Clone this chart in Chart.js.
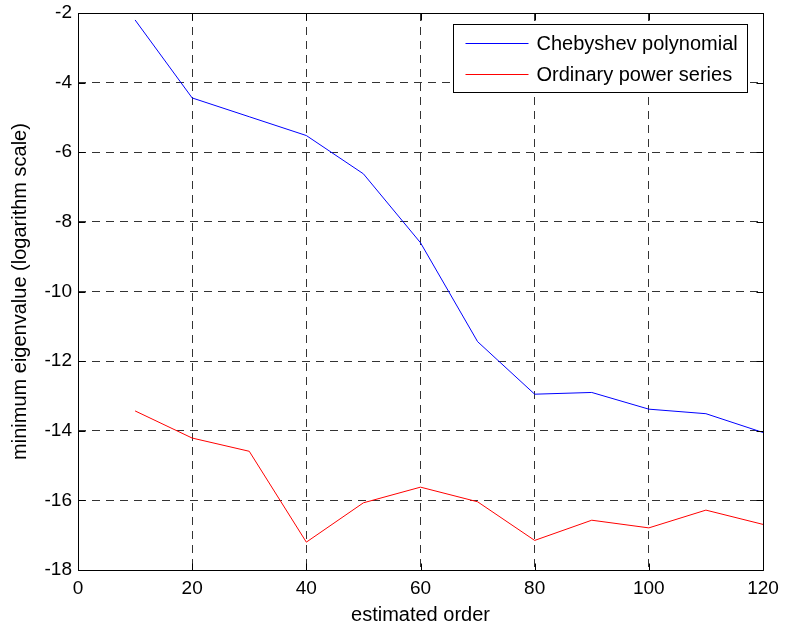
<!DOCTYPE html>
<html>
<head>
<meta charset="utf-8">
<script src="https://cdn.jsdelivr.net/npm/chart.js@4/dist/chart.umd.min.js"></script>
<style>
  html, body { margin: 0; padding: 0; background: #fff; }
  #wrap { width: 786px; height: 627px; }
  canvas { display: block; }
</style>
</head>
<body>
<div id="wrap"><canvas id="c" width="786" height="627"></canvas></div>
<script>
// Estimated model order on the x axis
const orders = [10, 20, 30, 40, 50, 60, 70, 80, 90, 100, 110, 120];
// log10 of the minimum eigenvalue for each basis
const chebyshev   = [-2.2, -4.44, -4.98, -5.52, -6.62, -8.6, -11.44, -12.95, -12.9, -13.38, -13.51, -14.05];
const powerSeries = [-13.43, -14.21, -14.59, -17.2, -16.07, -15.62, -16.04, -17.15, -16.57, -16.79, -16.28, -16.69];
const seriesNames = ['Chebyshev polynomial', 'Ordinary power series'];
const xTicks = [0, 20, 40, 60, 80, 100, 120];
const yTicks = [-18, -16, -14, -12, -10, -8, -6, -4, -2];

const FONT = '"Liberation Sans", Arial, Helvetica, sans-serif';

const toPoints = (ys) => orders.map((x, i) => ({ x: x, y: ys[i] }));

const crisp = (v) => Math.round(v) + 0.5;

// Axes box with inward tick marks on all four sides
const framePlugin = {
  id: 'frame',
  afterDatasetsDraw(chart) {
    const { ctx, chartArea: a, scales } = chart;
    const L = crisp(a.left), R = crisp(a.right), T = crisp(a.top), B = crisp(a.bottom);
    const len = 7;
    ctx.save();
    ctx.strokeStyle = '#000';
    ctx.lineWidth = 1;
    ctx.setLineDash([]);
    ctx.beginPath();
    ctx.rect(L, T, R - L, B - T);
    xTicks.forEach(v => {
      const px = crisp(scales.x.getPixelForValue(v));
      ctx.moveTo(px, B); ctx.lineTo(px, B - len);
      ctx.moveTo(px, T); ctx.lineTo(px, T + len);
    });
    yTicks.forEach(v => {
      const py = crisp(scales.y.getPixelForValue(v));
      ctx.moveTo(L, py); ctx.lineTo(L + len, py);
      ctx.moveTo(R, py); ctx.lineTo(R - len, py);
    });
    ctx.stroke();
    ctx.restore();
  }
};

// Boxed legend in the upper right corner of the plot
const boxLegendPlugin = {
  id: 'boxLegend',
  afterDraw(chart) {
    const { ctx, chartArea: a } = chart;
    ctx.save();
    ctx.font = '20px ' + FONT;
    const labels = chart.data.datasets.map(d => d.label);
    const tw = Math.max(...labels.map(t => ctx.measureText(t).width));
    const padL = 12, sample = 63, gap = 8, padR = 10;
    const w = Math.round(padL + sample + gap + tw + padR);
    const h = 68;
    const x1 = crisp(a.right - 16 - w);
    const y1 = crisp(a.top + 11);
    ctx.fillStyle = '#fff';
    ctx.fillRect(x1, y1, w, h);
    ctx.strokeStyle = '#000';
    ctx.lineWidth = 1;
    ctx.setLineDash([]);
    ctx.strokeRect(x1, y1, w, h);
    const rows = [y1 + 18, y1 + 49];
    chart.data.datasets.forEach((d, i) => {
      const ry = crisp(rows[i]);
      ctx.strokeStyle = d.borderColor;
      ctx.beginPath();
      ctx.moveTo(x1 + padL, ry);
      ctx.lineTo(x1 + padL + sample, ry);
      ctx.stroke();
      ctx.fillStyle = '#000';
      ctx.textBaseline = 'middle';
      ctx.textAlign = 'left';
      ctx.fillText(d.label, x1 + padL + sample + gap, ry + 1);
    });
    ctx.restore();
  }
};

const gridStyle = {
  color: 'rgba(0,0,0,0.8)',
  lineWidth: 1,
  drawTicks: false,
  tickLength: 0
};

new Chart(document.getElementById('c'), {
  type: 'line',
  data: {
    datasets: [
      {
        label: seriesNames[0],
        data: toPoints(chebyshev),
        borderColor: '#0000ff',
        borderWidth: 1,
        pointRadius: 0,
        tension: 0,
        fill: false
      },
      {
        label: seriesNames[1],
        data: toPoints(powerSeries),
        borderColor: '#ff0000',
        borderWidth: 1,
        pointRadius: 0,
        tension: 0,
        fill: false
      }
    ]
  },
  options: {
    responsive: false,
    animation: false,
    devicePixelRatio: 1,
    layout: { padding: { top: 13, right: 23, left: 0, bottom: 0 } },
    plugins: {
      legend: { display: false },
      tooltip: { enabled: false }
    },
    scales: {
      x: {
        type: 'linear',
        min: 0,
        max: 120,
        afterBuildTicks: (s) => { s.ticks = xTicks.map(v => ({ value: v })); },
        afterFit: (s) => { s.height = 57; s.paddingLeft = 0; s.paddingRight = 0; },
        grid: gridStyle,
        border: { display: false, dash: [8, 6] },
        ticks: {
          color: '#000',
          font: { family: FONT, size: 19 },
          padding: 7,
          maxRotation: 0,
          callback: (v) => String(v)
        },
        title: {
          display: true,
          text: 'estimated order',
          color: '#000',
          font: { family: FONT, size: 20 },
          padding: { top: 0, bottom: 0 }
        }
      },
      y: {
        type: 'linear',
        min: -18,
        max: -2,
        afterBuildTicks: (s) => { s.ticks = yTicks.map(v => ({ value: v })); },
        afterFit: (s) => { s.width = 78; s.paddingTop = 0; s.paddingBottom = 0; },
        grid: gridStyle,
        border: { display: false, dash: [8, 6] },
        ticks: {
          color: '#000',
          font: { family: FONT, size: 19 },
          padding: 6,
          callback: (v) => String(v)
        },
        title: {
          display: true,
          text: 'minimum eigenvalue (logarithm scale)',
          color: '#000',
          font: { family: FONT, size: 20 },
          padding: { top: 8, bottom: 8 }
        }
      }
    }
  },
  plugins: [framePlugin, boxLegendPlugin]
});
</script>
</body>
</html>
